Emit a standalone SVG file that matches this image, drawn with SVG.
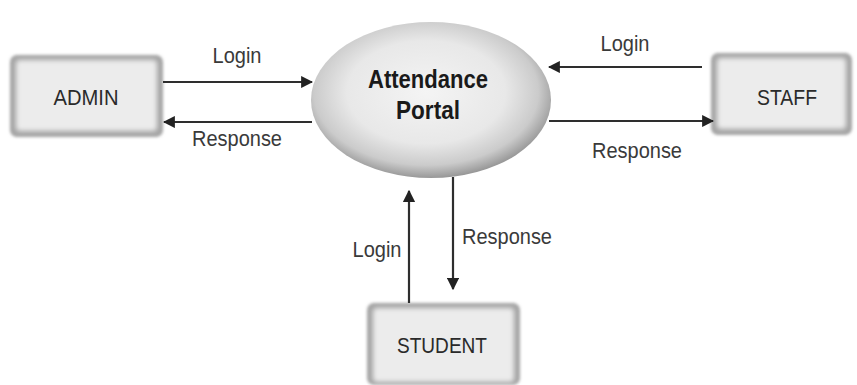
<svg xmlns="http://www.w3.org/2000/svg" width="857" height="385" viewBox="0 0 857 385">
<style>
.lbl{font-family:"Liberation Sans",Arial,sans-serif;font-size:22px;fill:#3a3a3a;text-anchor:middle}
.nm{font-family:"Liberation Sans",Arial,sans-serif;font-size:22px;fill:#2a2a2a;text-anchor:middle}
.ttl{font-family:"Liberation Sans",Arial,sans-serif;font-size:25px;font-weight:bold;fill:#1a1a1a;text-anchor:middle}
.ln{stroke:#2e2e2e;stroke-width:2.2;fill:none;marker-end:url(#ah)}
.boxo{fill:#a4a4a4;filter:url(#bl)}
.boxi{fill:#ececec;filter:url(#bl2)}
</style>
<defs>
<marker id="ah" viewBox="0 0 10 10" refX="9" refY="5" markerWidth="5.5" markerHeight="5.5" orient="auto" markerUnits="strokeWidth">
<path d="M0,0 L10,5 L0,10 z" fill="#222"/>
</marker>
<filter id="bl" x="-10%" y="-10%" width="120%" height="120%"><feGaussianBlur stdDeviation="1.5"/></filter>
<filter id="bl2" x="-10%" y="-10%" width="120%" height="120%"><feGaussianBlur stdDeviation="2.5"/></filter>
<radialGradient id="eg" cx="0.48" cy="0.45" r="0.55">
<stop offset="0" stop-color="#f4f4f4"/>
<stop offset="0.6" stop-color="#e8e8e8"/>
<stop offset="0.85" stop-color="#cbcbcb"/>
<stop offset="1" stop-color="#989898"/>
</radialGradient>
</defs>
<rect width="857" height="385" fill="#ffffff"/>
<g id="portal">
<ellipse cx="431" cy="100" rx="120" ry="78" fill="url(#eg)"/>
<text class="ttl" x="428" y="88" textLength="120" lengthAdjust="spacingAndGlyphs">Attendance</text>
<text class="ttl" x="428" y="119" textLength="64" lengthAdjust="spacingAndGlyphs">Portal</text>
</g>
<g id="admin">
<rect class="boxo" x="10" y="55" width="153" height="82" rx="7"/>
<rect class="boxi" x="16" y="60" width="141" height="71" rx="4"/>
<text class="nm" x="86" y="105" textLength="65" lengthAdjust="spacingAndGlyphs">ADMIN</text>
</g>
<g id="staff">
<rect class="boxo" x="711" y="53" width="141" height="82" rx="7"/>
<rect class="boxi" x="717" y="58" width="129" height="71" rx="4"/>
<text class="nm" x="787" y="105" textLength="60" lengthAdjust="spacingAndGlyphs">STAFF</text>
</g>
<g id="student">
<rect class="boxo" x="367" y="303" width="153" height="82" rx="7"/>
<rect class="boxi" x="373" y="308" width="141" height="74" rx="4"/>
<text class="nm" x="442" y="353" textLength="90" lengthAdjust="spacingAndGlyphs">STUDENT</text>
</g>
<g id="connectors">
<line class="ln" x1="163" y1="82" x2="312" y2="82"/>
<line class="ln" x1="312" y1="122" x2="164" y2="122"/>
<line class="ln" x1="702" y1="67" x2="549" y2="67"/>
<line class="ln" x1="549" y1="121" x2="713" y2="121"/>
<line class="ln" x1="409" y1="303" x2="409" y2="191"/>
<line class="ln" x1="453" y1="177" x2="453" y2="289"/>
<text class="lbl" x="237" y="63" textLength="49" lengthAdjust="spacingAndGlyphs">Login</text>
<text class="lbl" x="237" y="146" textLength="90" lengthAdjust="spacingAndGlyphs">Response</text>
<text class="lbl" x="625" y="51" textLength="49" lengthAdjust="spacingAndGlyphs">Login</text>
<text class="lbl" x="637" y="158" textLength="90" lengthAdjust="spacingAndGlyphs">Response</text>
<text class="lbl" x="377" y="257" textLength="49" lengthAdjust="spacingAndGlyphs">Login</text>
<text class="lbl" x="507" y="244" textLength="90" lengthAdjust="spacingAndGlyphs">Response</text>
</g>
</svg>
